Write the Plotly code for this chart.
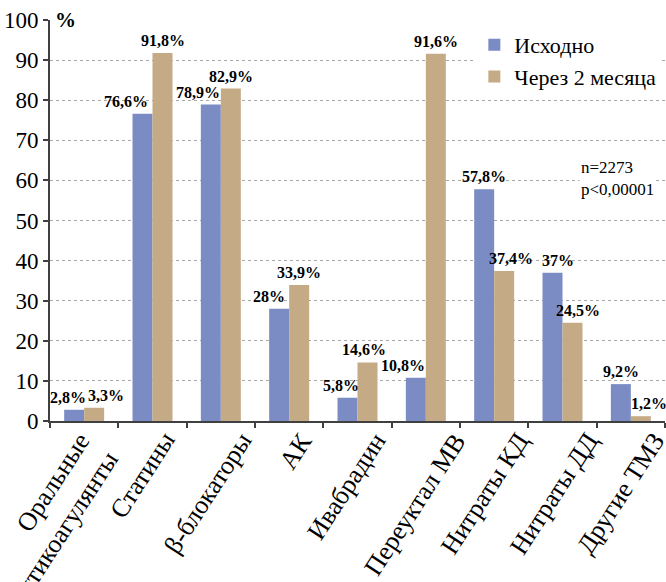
import plotly.graph_objects as go

# Categories of therapy and share of patients (%) at baseline and after 2 months
categories = [
    "Оральные<br>антикоагулянты",
    "Статины",
    "β-блокаторы",
    "АК",
    "Ивабрадин",
    "Переуктал МВ",
    "Нитраты КД",
    "Нитраты ДД",
    "Другие ТМЗ",
]
baseline = [2.8, 76.6, 78.9, 28, 5.8, 10.8, 57.8, 37, 9.2]
after_2m = [3.3, 91.8, 82.9, 33.9, 14.6, 91.6, 37.4, 24.5, 1.2]
series_names = ["Исходно", "Через 2 месяца"]
y_ticks = [0, 10, 20, 30, 40, 50, 60, 70, 80, 90, 100]

# horizontal nudges (px) for value labels so neighbours do not collide
nudge_baseline = [-6, -17, -13, -10, -7, -13, 0, 5, 0]
nudge_after = [12, 0, 0, 0, -4, 0, 7, 5, 8]
# horizontal nudges (px) for the slanted category labels
nudge_cat = [-35, -10, -13, 6, -11, -11, -9, -8, -10]

BLUE = "#7b8bc4"
TAN = "#c5aa86"
AXIS = "#404040"
SERIF = "Liberation Serif"
BAR_HALF = 10  # half of the group width in px (bar centre offset)


def fmt(v):
    return f"{v:g}".replace(".", ",") + "%"


fig = go.Figure()
fig.add_trace(go.Bar(x=categories, y=baseline, name=series_names[0],
                     marker_color=BLUE, marker_line_width=0))
fig.add_trace(go.Bar(x=categories, y=after_2m, name=series_names[1],
                     marker_color=TAN, marker_line_width=0))

label_font = dict(family=SERIF, size=16, color="black", weight="bold")
annotations = []
for cat, v, n in zip(categories, baseline, nudge_baseline):
    annotations.append(dict(x=cat, y=v, text=fmt(v), showarrow=False,
                            xshift=-BAR_HALF + n, yshift=2, yanchor="bottom",
                            font=label_font))
for cat, v, n in zip(categories, after_2m, nudge_after):
    annotations.append(dict(x=cat, y=v, text=fmt(v), showarrow=False,
                            xshift=BAR_HALF + n, yshift=2, yanchor="bottom",
                            font=label_font))

# slanted category labels under the axis
for cat, n in zip(categories, nudge_cat):
    annotations.append(dict(x=cat, y=0, text=cat, showarrow=False, textangle=-57,
                            xanchor="center", yanchor="top", align="right",
                            xshift=n, yshift=-4,
                            font=dict(family=SERIF, size=26, color="black")))

annotations.append(dict(xref="paper", yref="y", x=0.0, y=100, text="%",
                        showarrow=False, xanchor="left", yanchor="middle", xshift=3,
                        bgcolor="white",
                        font=dict(family=SERIF, size=21, color="black", weight="bold")))
annotations.append(dict(xref="paper", yref="y", x=0.86, y=60.5, text="n=2273<br>p<0,00001",
                        showarrow=False, xanchor="left", yanchor="middle", align="left",
                        bgcolor="white",
                        font=dict(family=SERIF, size=17, color="black")))

fig.update_layout(
    width=666, height=582,
    margin=dict(l=50, r=1, t=20, b=161),
    paper_bgcolor="white", plot_bgcolor="white",
    barmode="group", bargap=0.415, bargroupgap=0,
    font=dict(family=SERIF, color="black"),
    showlegend=True,
    legend=dict(x=0.69, y=0.99, xanchor="left", yanchor="top",
                bgcolor="white", font=dict(family=SERIF, size=22, color="black"),
                itemwidth=30, tracegroupgap=0),
    annotations=annotations,
)
fig.update_xaxes(
    range=[-0.5, len(categories) - 0.5], autorange=False,
    showline=True, linecolor=AXIS, linewidth=2, automargin=False,
    ticks="outside", tickson="boundaries", ticklen=5, tickcolor=AXIS, tickwidth=1.5,
    showticklabels=False, showgrid=False,
)
fig.update_yaxes(
    range=[0, 100], autorange=False, tickvals=y_ticks, automargin=False,
    showline=True, linecolor=AXIS, linewidth=2,
    ticks="outside", ticklen=5, tickcolor=AXIS, tickwidth=1.5,
    tickfont=dict(family=SERIF, size=23, color="black"),
    showgrid=True, gridcolor="#a8a8a8", griddash="dot", gridwidth=1,
    zeroline=False,
)

fig.write_html("out.html")
